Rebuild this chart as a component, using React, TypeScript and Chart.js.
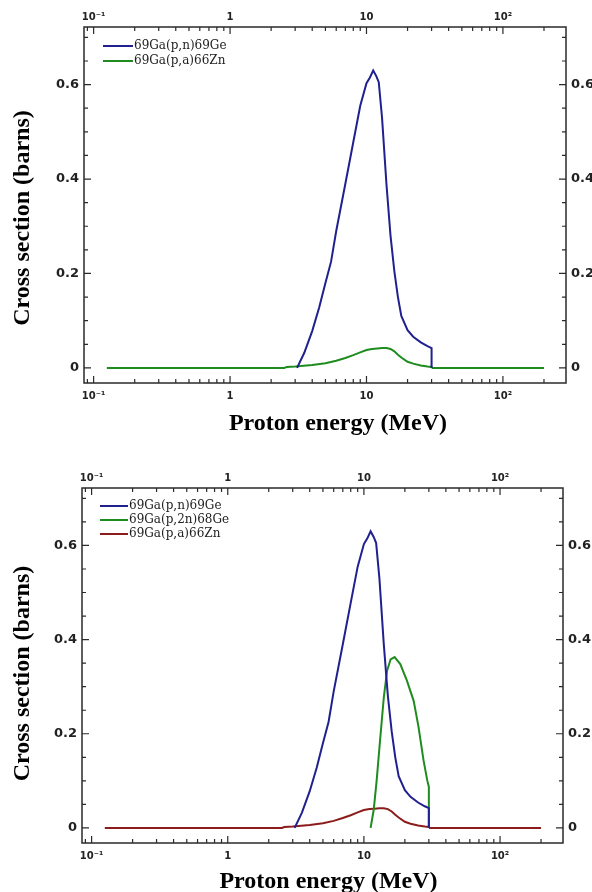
import React, { useEffect, useRef } from 'react';
import { Chart, registerables } from 'chart.js';

Chart.register(...registerables);

// ---- Data ----
// 69Ga(p,n)69Ge
const PN_ENERGY = [3.1, 3.5, 4, 4.5, 5, 5.5, 6, 7, 8, 9, 10, 10.6, 11.2, 11.8, 12.3, 13, 14, 15, 16, 17, 18, 20, 22, 25, 28, 30, 30];
const PN_XS = [0, 0.032, 0.078, 0.128, 0.18, 0.225, 0.29, 0.39, 0.478, 0.555, 0.603, 0.615, 0.63, 0.618, 0.605, 0.53, 0.39, 0.28, 0.205, 0.15, 0.11, 0.08, 0.066, 0.054, 0.046, 0.042, 0];

// 69Ga(p,a)66Zn
const PA_ENERGY = [0.125, 2.5, 2.6, 3, 4, 5, 6, 7, 8, 9, 10, 11, 12, 13, 14, 15, 16, 17, 18, 20, 22, 25, 28, 30, 30.5, 200];
const PA_XS = [0, 0, 0.002, 0.003, 0.006, 0.01, 0.015, 0.021, 0.027, 0.033, 0.038, 0.04, 0.041, 0.042, 0.042, 0.04, 0.035, 0.028, 0.022, 0.013, 0.009, 0.005, 0.003, 0.002, 0, 0];

// 69Ga(p,2n)68Ge
const P2N_ENERGY = [11.2, 11.8, 12.4, 13, 14, 14.8, 15.7, 16.8, 18.5, 20.7, 23.2, 25.2, 27.4, 29.2, 30, 30];
const P2N_XS = [0, 0.038, 0.1, 0.17, 0.277, 0.334, 0.358, 0.363, 0.348, 0.313, 0.27, 0.214, 0.144, 0.101, 0.087, 0];

const LABEL_PN = '69Ga(p,n)69Ge';
const LABEL_P2N = '69Ga(p,2n)68Ge';
const LABEL_PA = '69Ga(p,a)66Zn';

const X_TICKS = [0.1, 1, 10, 100];
const X_TICK_LABELS = ['10\u207B\u00B9', '1', '10', '10\u00B2'];
const Y_TICKS = [0, 0.2, 0.4, 0.6];
const Y_TICK_LABELS = ['0', '0.2', '0.4', '0.6'];

const X_TITLE = 'Proton energy (MeV)';
const Y_TITLE = 'Cross section (barns)';

const X_MIN = 0.085;
const X_MAX = 290;
const Y_MIN = -0.032;
const Y_MAX = 0.722;

const BLUE = '#20208f';
const GREEN = '#1e8c1e';
const RED = '#8c1c1c';
const AXIS_COLOR = '#2a2a2a';

const zip = (xs: number[], ys: number[]) => xs.map((x, i) => ({ x, y: ys[i] }));

// Frame and inward tick marks
const frameTicksPlugin = {
  id: 'frameTicks',
  afterDatasetsDraw(chart: any) {
    const { ctx, chartArea: a, scales } = chart;
    ctx.save();
    ctx.strokeStyle = AXIS_COLOR;
    ctx.lineWidth = 1.5;
    ctx.strokeRect(a.left, a.top, a.right - a.left, a.bottom - a.top);
    ctx.lineWidth = 1.2;
    ctx.beginPath();
    for (let e = -2; e <= 2; e++) {
      for (let m = 1; m <= 9; m++) {
        const v = m * Math.pow(10, e);
        const px = scales.x.getPixelForValue(v);
        if (px <= a.left + 1 || px >= a.right - 1) continue;
        const len = m === 1 ? 7 : 4;
        ctx.moveTo(px, a.bottom);
        ctx.lineTo(px, a.bottom - len);
        ctx.moveTo(px, a.top);
        ctx.lineTo(px, a.top + len);
      }
    }
    for (let k = 0; k <= 14; k++) {
      const v = k * 0.05;
      const py = scales.y.getPixelForValue(v);
      if (py <= a.top + 1 || py >= a.bottom - 1) continue;
      const len = k % 4 === 0 ? 7 : 4;
      ctx.moveTo(a.left, py);
      ctx.lineTo(a.left + len, py);
      ctx.moveTo(a.right, py);
      ctx.lineTo(a.right - len, py);
    }
    ctx.stroke();
    ctx.restore();
  },
};

// Legend drawn inside the plot area, top-left
const insideLegendPlugin = {
  id: 'insideLegend',
  afterDraw(chart: any, _args: any, opts: any) {
    const { ctx, chartArea: a } = chart;
    ctx.save();
    ctx.font = '12px "DejaVu Serif"';
    ctx.textBaseline = 'middle';
    ctx.textAlign = 'left';
    chart.data.datasets.forEach((ds: any, i: number) => {
      const y = a.top + opts.offsetY + i * opts.rowHeight;
      const x0 = a.left + opts.offsetX;
      ctx.strokeStyle = ds.borderColor;
      ctx.lineWidth = 2;
      ctx.beginPath();
      ctx.moveTo(x0, y);
      ctx.lineTo(x0 + opts.lineLength, y);
      ctx.stroke();
      ctx.fillStyle = '#222';
      ctx.fillText(ds.label, x0 + opts.lineLength + 1, y);
    });
    ctx.restore();
  },
};

// Axis titles (placed as in the reference figure)
const axisTitlesPlugin = {
  id: 'axisTitles',
  afterDraw(chart: any, _args: any, opts: any) {
    const { ctx, chartArea: a } = chart;
    ctx.save();
    ctx.fillStyle = '#000';
    ctx.font = 'bold 24px "Liberation Serif"';
    ctx.textAlign = 'center';
    ctx.textBaseline = 'alphabetic';
    ctx.fillText(X_TITLE, (a.left + a.right) / 2 + opts.xShift, opts.xBaseline);
    ctx.translate(opts.yCenterX, (a.top + a.bottom) / 2 + opts.yShift);
    ctx.rotate(-Math.PI / 2);
    ctx.textBaseline = 'middle';
    ctx.fillText(Y_TITLE, 0, 0);
    ctx.restore();
  },
};

const xTickFont = { family: '"DejaVu Sans"', size: 10, weight: 'bold' as const };
const yTickFont = { family: '"DejaVu Sans"', size: 13, weight: 'bold' as const };

type Area = { left: number; right: number; top: number; bottom: number; height: number };

function makeOptions(area: Area, legend: any, titles: any) {
  const xAxis = (position: 'top' | 'bottom') => ({
    type: 'logarithmic' as const,
    position,
    min: X_MIN,
    max: X_MAX,
    afterBuildTicks: (s: any) => {
      s.ticks = X_TICKS.map((v) => ({ value: v }));
    },
    ticks: {
      callback: (_v: any, i: number) => X_TICK_LABELS[i],
      font: xTickFont,
      color: '#222',
      padding: position === 'bottom' ? 7 : 4,
      maxRotation: 0,
      autoSkip: false,
    },
    grid: { display: false, drawTicks: false },
    border: { display: false },
    afterFit: (s: any) => {
      s.height = position === 'bottom' ? area.height - area.bottom : area.top;
    },
  });
  const yAxis = (position: 'left' | 'right') => ({
    type: 'linear' as const,
    position,
    min: Y_MIN,
    max: Y_MAX,
    afterBuildTicks: (s: any) => {
      s.ticks = Y_TICKS.map((v) => ({ value: v }));
    },
    ticks: {
      callback: (_v: any, i: number) => Y_TICK_LABELS[i],
      font: yTickFont,
      color: '#222',
      padding: 5,
    },
    grid: { display: false, drawTicks: false },
    border: { display: false },
    afterFit: (s: any) => {
      s.width = position === 'left' ? area.left : 592 - area.right;
    },
  });
  return {
    responsive: false,
    animation: false as const,
    layout: { padding: 0 },
    plugins: {
      legend: { display: false },
      tooltip: { enabled: false },
      insideLegend: legend,
      axisTitles: titles,
    },
    elements: {
      point: { radius: 0 },
      line: { borderWidth: 2, tension: 0 },
    },
    scales: {
      x: xAxis('bottom'),
      x2: xAxis('top'),
      y: yAxis('left'),
      y2: yAxis('right'),
    },
  };
}

function CrossSectionChart({ datasets, area, legend, titles }: { datasets: any[]; area: Area; legend: any; titles: any }) {
  const ref = useRef<HTMLCanvasElement>(null);
  useEffect(() => {
    if (!ref.current) return;
    const chart = new Chart(ref.current, {
      type: 'line',
      data: { datasets },
      options: makeOptions(area, legend, titles) as any,
      plugins: [frameTicksPlugin, insideLegendPlugin, axisTitlesPlugin],
    });
    return () => chart.destroy();
  }, []);
  return (
    <canvas
      ref={ref}
      width={592}
      height={area.height}
      style={{ display: 'block', width: 592, height: area.height }}
    />
  );
}

const lineDs = (label: string, xs: number[], ys: number[], color: string) => ({
  label,
  data: zip(xs, ys),
  borderColor: color,
  backgroundColor: color,
  borderWidth: 2,
  pointRadius: 0,
  fill: false,
  xAxisID: 'x',
  yAxisID: 'y',
});

export default function App() {
  const top = [
    lineDs(LABEL_PN, PN_ENERGY, PN_XS, BLUE),
    lineDs(LABEL_PA, PA_ENERGY, PA_XS, GREEN),
  ];
  const bottom = [
    lineDs(LABEL_PN, PN_ENERGY, PN_XS, BLUE),
    lineDs(LABEL_P2N, P2N_ENERGY, P2N_XS, GREEN),
    lineDs(LABEL_PA, PA_ENERGY, PA_XS, RED),
  ];
  return (
    <div style={{ position: 'absolute', left: 0, top: 0, width: 592, height: 892, background: '#fff', overflow: 'hidden' }}>
      <CrossSectionChart
        datasets={top}
        area={{ left: 84, right: 566, top: 27, bottom: 383, height: 440 }}
        legend={{ offsetX: 19, offsetY: 19, lineLength: 30, rowHeight: 15 }}
        titles={{ xShift: 13, xBaseline: 430, yCenterX: 23, yShift: 13 }}
      />
      <CrossSectionChart
        datasets={bottom}
        area={{ left: 82, right: 563, top: 48, bottom: 403, height: 452 }}
        legend={{ offsetX: 18, offsetY: 18, lineLength: 28, rowHeight: 14 }}
        titles={{ xShift: 6, xBaseline: 448, yCenterX: 23, yShift: 8 }}
      />
    </div>
  );
}
